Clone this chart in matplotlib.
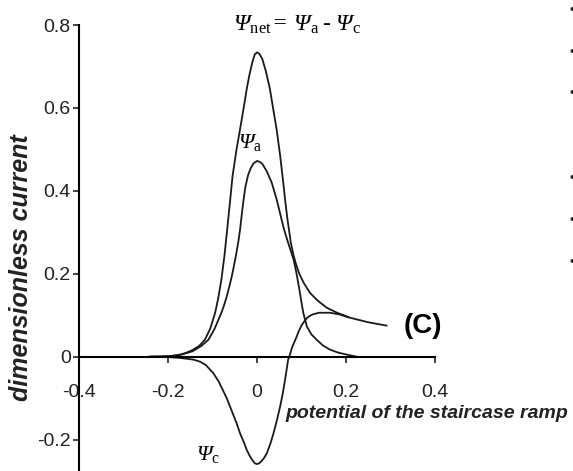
import matplotlib
matplotlib.use("Agg")
import matplotlib.pyplot as plt

plt.rcParams['font.family'] = ['Liberation Sans', 'DejaVu Sans']
plt.rcParams['mathtext.fontset'] = 'custom'
# Greek capitals are taken from the "rm" font, so make it italic serif
plt.rcParams['mathtext.rm'] = 'Liberation Serif:italic'
plt.rcParams['mathtext.it'] = 'Liberation Serif:italic'
plt.rcParams['mathtext.sf'] = 'Liberation Serif'

# curves
net_x = [-0.24, -0.21, -0.19, -0.173, -0.16, -0.145, -0.13, -0.117, -0.105,
         -0.094, -0.087, -0.080, -0.073, -0.067, -0.061, -0.055, -0.046, -0.038,
         -0.030, -0.023, -0.017, -0.010, -0.005, 0.0, 0.005, 0.012, 0.020, 0.029,
         0.036, 0.044, 0.052, 0.059, 0.063, 0.068, 0.076, 0.082, 0.088, 0.095,
         0.105, 0.119, 0.130, 0.140, 0.157, 0.180, 0.209, 0.250, 0.291]
net_y = [0.0, 0.0005, 0.002, 0.005, 0.009, 0.016, 0.026, 0.041, 0.068,
         0.106, 0.142, 0.186, 0.245, 0.307, 0.370, 0.435, 0.500, 0.549,
         0.600, 0.646, 0.680, 0.712, 0.729, 0.734, 0.731, 0.718, 0.688, 0.646,
         0.600, 0.549, 0.485, 0.420, 0.380, 0.335, 0.275, 0.245, 0.222, 0.200,
         0.178, 0.154, 0.142, 0.132, 0.118, 0.106, 0.094, 0.083, 0.075]

a_x = [-0.24, -0.20, -0.173, -0.145, -0.125, -0.109, -0.095, -0.080, -0.074,
       -0.068, -0.062, -0.057, -0.052, -0.047, -0.042, -0.038, -0.034, -0.030,
       -0.026, -0.020, -0.014, -0.008, 0.0, 0.006, 0.012, 0.022, 0.033, 0.044,
       0.052, 0.060, 0.067, 0.072, 0.077, 0.082, 0.088, 0.094, 0.099, 0.104,
       0.112, 0.122, 0.134, 0.148, 0.164, 0.182, 0.202, 0.224]
a_y = [0.0, 0.001, 0.004, 0.013, 0.026, 0.041, 0.068, 0.106, 0.124,
       0.145, 0.170, 0.192, 0.218, 0.246, 0.277, 0.307, 0.345, 0.380,
       0.410, 0.438, 0.455, 0.466, 0.472, 0.470, 0.465, 0.447, 0.420, 0.380,
       0.345, 0.310, 0.285, 0.268, 0.252, 0.235, 0.205, 0.170, 0.137, 0.106,
       0.073, 0.054, 0.041, 0.027, 0.017, 0.010, 0.005, 0.0]

c_x = [-0.24, -0.20, -0.173, -0.143, -0.128, -0.115, -0.098, -0.086, -0.077,
       -0.068, -0.057, -0.046, -0.038, -0.030, -0.023, -0.016, -0.010, -0.005,
       0.0, 0.005, 0.010, 0.016, 0.022, 0.030, 0.037, 0.045, 0.052, 0.058,
       0.063, 0.066, 0.070, 0.074, 0.078, 0.083, 0.089, 0.094, 0.100, 0.106,
       0.112, 0.118, 0.125, 0.132, 0.140, 0.164, 0.185, 0.205]
c_y = [0.0, -0.001, -0.003, -0.007, -0.012, -0.020, -0.040, -0.060, -0.080,
       -0.100, -0.130, -0.160, -0.185, -0.205, -0.225, -0.240, -0.250, -0.257,
       -0.259, -0.257, -0.252, -0.244, -0.233, -0.210, -0.185, -0.152, -0.120, -0.088,
       -0.056, -0.035, -0.007, 0.005, 0.020, 0.033, 0.048, 0.062, 0.075, 0.085,
       0.093, 0.098, 0.102, 0.104, 0.106, 0.106, 0.102, 0.095]

x_ticks = [-0.4, -0.2, 0, 0.2, 0.4]
x_tick_labels = ['-0.4', '-0.2', '0', '0.2', '0.4']
y_ticks = [-0.2, 0, 0.2, 0.4, 0.6, 0.8]
y_tick_labels = ['-0.2', '0', '0.2', '0.4', '0.6', '0.8']

edge_marks_y = [10, 52, 93, 178, 220, 262]  # cut-off glyphs at the right border (px)

fig = plt.figure(figsize=(5.73, 4.71), dpi=100)
ax = fig.add_axes([79 / 573, 0, 356 / 573, 446 / 471])

for xs, ys in [(net_x, net_y), (a_x, a_y), (c_x, c_y)]:
    ax.plot(xs, ys, color='#1a1a1a', lw=1.3, clip_on=False,
            solid_joinstyle='round')

ax.set_xlim(-0.4, 0.4)
ax.set_ylim(-0.2757, 0.8)
ax.spines['top'].set_visible(False)
ax.spines['right'].set_visible(False)
ax.spines['bottom'].set_position(('data', 0))
ax.spines['left'].set_linewidth(1.5)
ax.spines['bottom'].set_linewidth(1.5)

ax.set_xticks(x_ticks)
ax.set_xticklabels(x_tick_labels)
ax.set_yticks(y_ticks)
ax.set_yticklabels(y_tick_labels)
ax.tick_params(axis='x', direction='out', length=4, width=1.2, pad=16,
               labelsize=14, colors='#222222')
ax.tick_params(axis='y', direction='out', length=4, width=1.2, pad=2,
               labelsize=14, colors='#222222')

ax.text(0.09, 0.80,
        r'$\Psi_{\mathsf{net}}\!=\,\Psi_{\mathsf{a}}\;\mathsf{‐}\;\Psi_{\mathsf{c}}$',
        fontsize=17, ha='center', va='center', clip_on=False)
ax.text(-0.016, 0.517, r'$\Psi_{\mathsf{a}}$', fontsize=16,
        ha='center', va='center')
ax.text(-0.11, -0.237, r'$\Psi_{\mathsf{c}}$', fontsize=16,
        ha='center', va='center')
ax.text(0.373, 0.073, '(C)', fontsize=20, fontweight='bold', ha='center',
        va='center', clip_on=False)

fig.text(285 / 573, 1 - 413 / 471, 'potential of the staircase ramp',
         fontsize=14, fontweight='bold', fontstyle='italic', ha='left',
         va='center', color='#222222')
fig.text(21 / 573, 1 - 268 / 471, 'dimensionless current', fontsize=18,
         fontweight='bold', fontstyle='italic', rotation=90, ha='center',
         va='center', color='#222222')

for y in edge_marks_y:
    fig.text(572 / 573, 1 - y / 471, '•', fontsize=10, ha='center',
             va='center', color='#222222')

fig.savefig('out.png', dpi=100)
